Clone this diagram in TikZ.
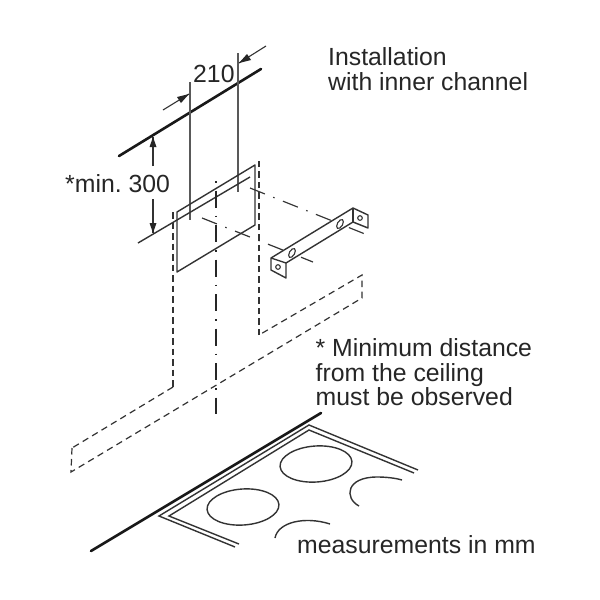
\documentclass[tikz,border=0pt]{standalone}
\usepackage{fontspec}
\setmainfont{Liberation Sans}
\frenchspacing
\begin{document}
\begin{tikzpicture}[x=1pt,y=-1pt,
  thinl/.style={line width=1.4pt,draw=black!80},
  thind/.style={line width=1.1pt,draw=black!80},
  grayl/.style={line width=1.6pt,draw=black!65},
  heavy/.style={line width=2.6pt,draw=black!90,line cap=round},
  dashl/.style={line width=1.2pt,draw=black!80,dash pattern=on 6.5pt off 4.5pt},
  dashv/.style={line width=1.4pt,draw=black!80,dash pattern=on 6.5pt off 4pt},
  center/.style={line width=1.6pt,draw=black!85,dash pattern=on 1.5pt off 8pt on 17pt off 8pt},
  centerthin/.style={line width=1.2pt,draw=black!80,dash pattern=on 16pt off 9pt on 1.5pt off 9pt},
  lbl/.style={font=\fontsize{24.8pt}{28pt}\selectfont,text=black!85,inner sep=0pt,anchor=base west}]
\useasboundingbox (0,0) rectangle (600,600);
\fill[white] (0,0) rectangle (600,600);
% ceiling
\coordinate (ca) at (119,156); \coordinate (cb) at (261,69);
\draw[heavy] (ca) -- (cb);
% dimension 210
\coordinate (v1a) at (190,82); \coordinate (v1b) at (190,220);
\coordinate (v2a) at (238,53); \coordinate (v2b) at (238,192);
\draw[grayl] (v1a) -- (v1b);
\draw[grayl] (v2a) -- (v2b);
\coordinate (a1) at (163,110); \coordinate (a1t) at (189,94);
\coordinate (a2) at (266,46); \coordinate (a2t) at (239,63);
\draw[thind] (a1) -- (a1t);
\draw[thind] (a2) -- (a2t);
\fill[black!85] (189,94) -- (177,97) -- (181,103) -- cycle;
\fill[black!85] (239,63) -- (251,60) -- (247,54) -- cycle;
% dimension 300
\coordinate (d1) at (153,166); \coordinate (d1t) at (153,137);
\coordinate (d2) at (153,199); \coordinate (d2t) at (153,233);
\draw[thinl] (d1) -- (d1t);
\draw[thinl] (d2) -- (d2t);
\fill[black!85] (153,137) -- (149.5,147) -- (156.5,147) -- cycle;
\fill[black!85] (153,233) -- (149.5,223) -- (156.5,223) -- cycle;
% plate
\coordinate (p1) at (177,212); \coordinate (p2) at (255,165);
\coordinate (p3) at (255,225); \coordinate (p4) at (177,272);
\draw[thinl,line join=round] (p1) -- (p2) -- (p3) -- (p4) -- cycle;
\coordinate (h1) at (138,243); \coordinate (h2) at (250,177);
\draw[thinl] (h1) -- (h2);
% centre lines to bracket
\coordinate (e1) at (202,218); \coordinate (e2) at (313,262);
\coordinate (e3) at (250,188); \coordinate (e4) at (370,236);
\draw[centerthin] (e1) -- (e2);
\draw[centerthin] (e3) -- (e4);
% bracket
\fill[white] (271,258) -- (353,208) -- (368,215) -- (368,228) -- (353,222) -- (286,263) -- (286,278) -- (271,270) -- cycle;
\draw[thinl,line join=round] (271,258) -- (353,208) -- (368,215) -- (368,228) -- (353,222) -- (286,263) -- (286,278) -- (271,270) -- cycle;
\draw[thinl] (271,258) -- (286,263);
\draw[thinl] (353,208) -- (353,222);
\draw[thind,rotate around={60:(292,253)}] (292,253) ellipse (5pt and 2.6pt);
\draw[thind,rotate around={60:(340,224)}] (340,224) ellipse (5pt and 2.6pt);
\draw[thind] (278,267) circle (2.3pt);
\draw[thind] (360,218) circle (2.3pt);
% dashed outline
\draw[dashv] (173,212) -- (173,387);
\draw[dashl] (173,387) -- (72,448);
\draw[dashl] (72,448) -- (71,472) -- (362,298) -- (362,275) -- (259,335);
\draw[dashv] (259,335) -- (259,160);
% centre
\coordinate (c1) at (216,181); \coordinate (c2) at (216,414);
\draw[center] (c1) -- (c2);
% hob
\coordinate (wa) at (91,551); \coordinate (wb) at (321,413);
\draw[heavy] (wa) -- (wb);
\draw[thinl,miter limit=10] (235,547) -- (159,516) -- (309,425) -- (418,470);
\draw[thinl,miter limit=10] (239,544) -- (169,516) -- (309,430) -- (414,473);
\draw[thinl,rotate around={4:(316,464)}] (316,464) ellipse (36pt and 18pt);
\draw[thinl,rotate around={4:(243,507)}] (243,507) ellipse (36pt and 18pt);
\draw[thinl] (359,506) .. controls (344,498) and (346,477) .. (377,477) .. controls (386,477) and (395,478) .. (402,480);
\draw[thinl] (275,538) .. controls (278,522) and (305,516) .. (330,524);
% text
\node[lbl] (t1) at (328,65) {Installation};
\node[lbl] (t2) at (328,90) {with inner channel};
\node[lbl] (t3) at (193,82) {210};
\node[lbl] (t4) at (65,192) {*min. 300};
\node[lbl] (t5) at (315.5,356) {* Minimum distance};
\node[lbl] (t6) at (315.5,381) {from the ceiling};
\node[lbl] (t7) at (315.5,405) {must be observed};
\node[lbl] (t8) at (297,553.5) {measurements in mm};
\end{tikzpicture}
\end{document}
